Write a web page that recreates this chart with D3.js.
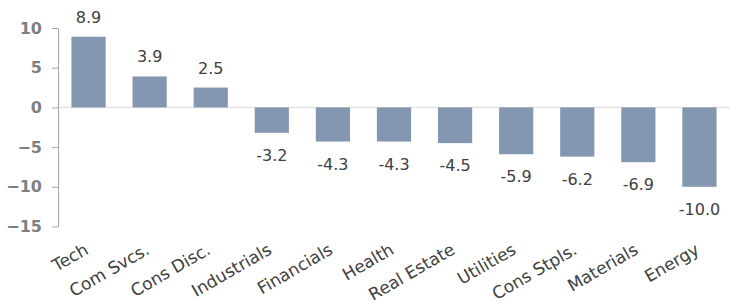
<!DOCTYPE html>
<html>
<head>
<meta charset="utf-8">
<script src="https://cdn.jsdelivr.net/npm/d3@7"></script>
<style>
  body { margin: 0; background: #fff; }
  svg { display: block; }
</style>
</head>
<body>
<div id="chart"></div>
<script>
// sector returns
const sectors = ["Tech", "Com Svcs.", "Cons Disc.", "Industrials", "Financials", "Health",
                 "Real Estate", "Utilities", "Cons Stpls.", "Materials", "Energy"];
const values = [8.9, 3.9, 2.5, -3.2, -4.3, -4.3, -4.5, -5.9, -6.2, -6.9, -10.0];
const yTicks = [10, 5, 0, -5, -10, -15];

const width = 739, height = 307;
const margin = {top: 28, right: 9, bottom: 81, left: 58};

let svg = d3.select("#chart")
    .append("svg")
    .attr("width", width)
    .attr("height", height);

let x = d3.scaleBand()
    .domain(sectors)
    .range([margin.left, width - margin.right])
    .paddingInner(0.44)
    .paddingOuter(0.22);

let y = d3.scaleLinear()
    .domain([-15, 10])
    .range([height - margin.bottom + 0.5, margin.top]);

// zero line
svg.append("line")
    .attr("x1", margin.left)
    .attr("x2", width - margin.right)
    .attr("y1", y(0))
    .attr("y2", y(0))
    .attr("stroke", "#d9d9d9")
    .attr("stroke-width", 1);

// bars
svg.selectAll("rect.bar")
    .data(values)
    .enter()
    .append("rect")
    .attr("class", "bar")
    .attr("fill", "#8497b0")
    .attr("x", (d, i) => x(sectors[i]))
    .attr("y", d => y(Math.max(0, d)))
    .attr("width", x.bandwidth())
    .attr("height", d => Math.abs(y(d) - y(0)));

// value labels
svg.selectAll("text.val")
    .data(values)
    .enter()
    .append("text")
    .attr("class", "val")
    .attr("x", (d, i) => x(sectors[i]) + x.bandwidth() / 2)
    .attr("y", d => d >= 0 ? y(d) - 14 : y(d) + 28)
    .attr("text-anchor", "middle")
    .attr("fill", "#404040")
    .style("font-family", "'Century Gothic', 'DejaVu Sans', sans-serif")
    .style("font-size", "16px")
    .text(d => d.toFixed(1));

// y axis
let yAxis = svg.append("g")
    .attr("transform", `translate(${margin.left}, 0)`)
    .call(d3.axisLeft(y).tickValues(yTicks).tickSize(6).tickPadding(10).tickSizeOuter(0));
yAxis.select(".domain").attr("stroke", "#a6a6a6");
yAxis.selectAll(".tick line").attr("stroke", "#a6a6a6");
yAxis.selectAll(".tick text")
    .attr("fill", "#7f7f7f")
    .style("font-family", "'DejaVu Sans', sans-serif")
    .style("font-weight", "bold")
    .style("font-size", "16px");

// category labels
svg.selectAll("text.cat")
    .data(sectors)
    .enter()
    .append("text")
    .attr("class", "cat")
    .attr("text-anchor", "end")
    .attr("transform", d => `translate(${x(d) + x.bandwidth() / 2 + 1}, ${height - 54}) rotate(-30)`)
    .attr("fill", "#404040")
    .style("font-family", "'Century Gothic', 'DejaVu Sans', sans-serif")
    .style("font-size", "17px")
    .text(d => d);
</script>
</body>
</html>
